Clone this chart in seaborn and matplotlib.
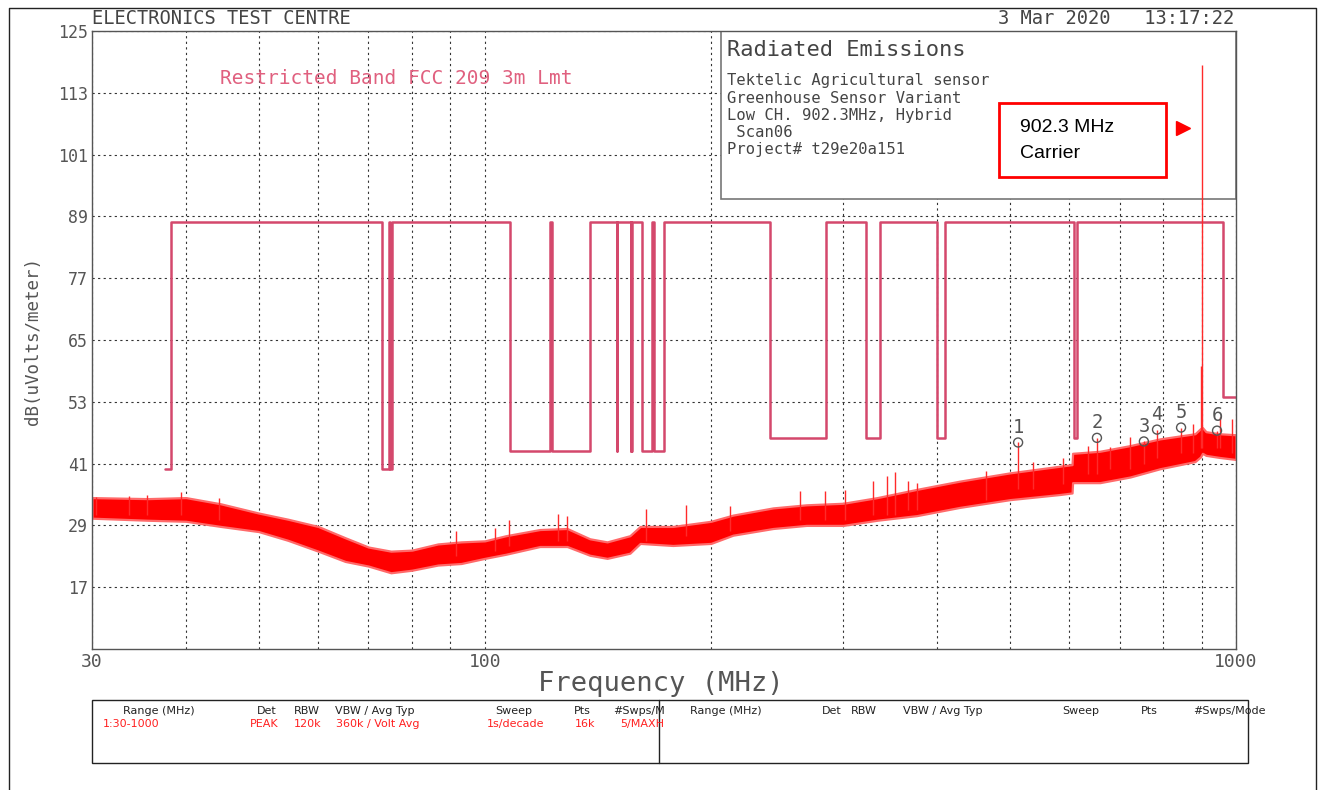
import numpy as np
import pandas as pd
import matplotlib.pyplot as plt
import matplotlib.patches as patches
from matplotlib.ticker import NullLocator
import seaborn as sns

sns.set_theme(style='white')
plt.rcParams['font.family'] = ['DejaVu Sans Mono', 'DejaVu Sans']

W, H = 1318, 790

# noise band of the max-hold trace, read as lower / upper edge of the solid part
freq_mhz = [30, 35.6, 40, 44.5, 50, 54.7, 60, 65.2, 70, 75, 80, 86.6, 93, 100,
            106.7, 118.4, 128.7, 138, 145.5, 156, 161, 178, 200, 214, 242, 268,
            300, 333, 376, 429, 500, 583, 605, 606, 659, 723, 792, 882, 897,
            902.3, 912, 950, 1000]
trace_low = [30.4, 30.0, 29.8, 28.8, 27.8, 26.1, 24.0, 22.0, 21.1, 19.8, 20.3,
             21.3, 21.6, 22.6, 23.4, 24.9, 24.9, 23.2, 22.6, 23.6, 25.5, 25.1,
             25.5, 27.1, 28.4, 29.0, 29.0, 30.0, 30.9, 32.5, 34.0, 35.0, 35.3,
             37.3, 37.3, 38.4, 40.0, 41.4, 42.3, 43.0, 42.6, 42.2, 41.8]
trace_high = [34.4, 34.2, 34.4, 33.2, 31.4, 30.2, 28.8, 26.6, 24.8, 24.0, 24.2,
              25.4, 25.8, 26.0, 27.0, 28.2, 28.4, 26.4, 25.8, 27.0, 28.8, 28.8,
              29.8, 31.0, 32.4, 33.0, 33.3, 34.4, 36.0, 37.6, 39.2, 40.5, 40.8,
              43.0, 43.4, 44.5, 45.8, 46.8, 47.8, 48.0, 47.2, 46.8, 46.6]

# single spikes standing out of the band (carrier incl.)
spike_freq = [30.4, 33.6, 35.5, 39.4, 44.3, 91.5, 103.3, 107.7, 125.2, 128.7,
              163.9, 185.3, 212, 262.7, 283.7, 301.7, 328.8, 343, 351.6, 366,
              376, 464.8, 512.8, 536.7, 588, 635, 653, 680, 723, 754, 785, 845,
              876.6, 899, 902.3, 943.5, 952, 988]
spike_base = [31, 31, 31, 31, 30, 23, 24, 25, 26, 26, 26, 27, 28, 30, 30, 30,
              31, 31, 31, 32, 32, 34, 36, 36, 37, 39, 39, 40, 40, 41, 42, 43,
              43, 44, 44, 44, 44, 43]
spike_peak = [34.6, 34.8, 35.0, 35.4, 34.4, 28.0, 28.4, 30.0, 31.3, 30.8, 32.1,
              32.9, 32.7, 35.6, 35.6, 35.8, 37.7, 38.5, 39.4, 37.6, 37.3, 39.6,
              45.1, 41.4, 42.0, 44.5, 46.0, 44.3, 46.2, 45.3, 47.6, 48.0, 48.7,
              60.0, 118.4, 47.4, 50.1, 49.6]

# FCC 15.205 restricted bands with the 15.209 3 m limit inside them
band_start = [37.5, 73, 74.8, 108, 123, 149.9, 156.52475, 156.7, 162.0125,
              167.72, 240, 322, 399.9, 608, 960]
band_stop = [38.25, 74.6, 75.2, 121.94, 138, 150.05, 156.52525, 156.9, 167.17,
             173.2, 285, 335.4, 410, 614, 1000]
band_limit = [40, 40, 40, 43.5, 43.5, 43.5, 43.5, 43.5, 43.5, 43.5, 46, 46, 46, 46, 54]
open_level = 88

marker_id = ['1', '2', '3', '4', '5', '6']
marker_freq = [512.8, 653, 754, 785, 845, 943.5]
marker_level = [45.1, 46.0, 45.3, 47.6, 48.0, 47.4]

y_ticks = [17, 29, 41, 53, 65, 77, 89, 101, 113, 125]
x_grid = [30, 40, 50, 60, 70, 80, 90, 100, 200, 300, 400, 500, 600, 700, 800, 900, 1000]
x_labels = {30: '30', 100: '100', 1000: '1000'}

# limit line as a step trace
lim_f, lim_v = [], []
for i, (a, b, lv) in enumerate(zip(band_start, band_stop, band_limit)):
    if i > 0:
        lim_f.append(a)
        lim_v.append(open_level)
    lim_f += [a, b]
    lim_v += [lv, lv]
    if b < 1000:
        lim_f.append(b)
        lim_v.append(open_level)
limit = pd.DataFrame({'freq': lim_f, 'level': lim_v})

fig = plt.figure(figsize=(W / 100, H / 100), dpi=100)
ax = fig.add_axes([92 / W, 1 - 649 / H, 1144 / W, 618 / H])
ax.set_xscale('log')
ax.set_xlim(30, 1000)
ax.set_ylim(5, 125)
ax.set_axisbelow(True)

ax.fill_between(freq_mhz, trace_low, trace_high, facecolor='#ff0000',
                edgecolor='#ff6a6a', lw=1.6, zorder=2)
ax.vlines(spike_freq, spike_base, spike_peak, color='#ff2a2a', lw=1.0, zorder=3)

sns.lineplot(data=limit, x='freq', y='level', sort=False, estimator=None,
             color='#d4486c', lw=1.8, ax=ax, zorder=2.5)

# title block inside the plot
ax.add_patch(patches.Rectangle((0.5498, 0.7281), 0.4502, 0.2719, transform=ax.transAxes,
                               facecolor='white', edgecolor='#777777', lw=1.2, zorder=1.5))

sns.scatterplot(x=marker_freq, y=marker_level, marker='o', s=42, facecolor='none',
                edgecolor='#555555', linewidth=1.0, ax=ax, zorder=4)
for m, f, v in zip(marker_id, marker_freq, marker_level):
    ax.text(f, v + 3.0, m, ha='center', va='center', fontsize=13.5, color='#555555', zorder=4)

ax.set_yticks(y_ticks)
ax.set_yticklabels([str(t) for t in y_ticks])
ax.set_xticks(x_grid)
ax.set_xticklabels([x_labels.get(t, '') for t in x_grid])
ax.xaxis.set_minor_locator(NullLocator())
ax.tick_params(axis='both', length=0, labelcolor='#555555')
ax.tick_params(axis='y', pad=3, labelsize=12)
ax.tick_params(axis='x', pad=3, labelsize=13)
ax.grid(True, color='#333333', linestyle=(0, (2, 3)), linewidth=0.8)
ax.set_xlabel('')
ax.set_ylabel('')
for s in ax.spines.values():
    s.set_color('#555555')
    s.set_linewidth(1.0)

# overlay in pixel coordinates for the page furniture
ov = fig.add_axes([0, 0, 1, 1])
ov.set_xlim(0, W)
ov.set_ylim(H, 0)
ov.axis('off')

ov.plot([9, 9, 1316, 1316], [790, 8, 8, 790], color='#222222', lw=1.0, clip_on=False)

grey = '#444444'
ov.text(92, 18, 'ELECTRONICS TEST CENTRE', fontsize=13.5, color=grey, va='center')
ov.text(1234, 18, '3 Mar 2020   13:17:22', fontsize=13.5, color=grey, va='center', ha='right')
ov.text(220, 79, 'Restricted Band FCC 209 3m Lmt', fontsize=14, color='#e0607f', va='center')

ov.text(727, 50, 'Radiated Emissions', fontsize=15.8, color=grey, va='center')
info_lines = ['Tektelic Agricultural sensor', 'Greenhouse Sensor Variant',
              'Low CH. 902.3MHz, Hybrid', ' Scan06', 'Project# t29e20a151']
for i, line in enumerate(info_lines):
    ov.text(727, 81 + i * 17.2, line, fontsize=11.2, color=grey, va='center')

ov.add_patch(patches.Rectangle((999, 103), 167, 74, fill=False, edgecolor='#ff0000', lw=2))
ov.text(1020, 128, '902.3 MHz', fontsize=14, family='Liberation Sans', color='black', va='center')
ov.text(1020, 153, 'Carrier', fontsize=14, family='Liberation Sans', color='black', va='center')
ov.plot([1183], [128], marker='>', color='#ff0000', ms=10, lw=0)

ov.text(33, 341, 'dB(uVolts/meter)', fontsize=12.6, color='#555555', rotation=90,
        ha='center', va='center')
ov.text(661, 684, 'Frequency (MHz)', fontsize=19.5, color='#555555', ha='center', va='center')

# settings table
ov.add_patch(patches.Rectangle((92, 700), 1156, 63, fill=False, edgecolor='#222222', lw=1))
ov.plot([659, 659], [700, 763], color='#222222', lw=1)
tf = dict(fontsize=8, family='DejaVu Sans', va='center')
head_l = [(123, 'Range (MHz)'), (257, 'Det'), (294, 'RBW'), (335, 'VBW / Avg Typ'),
          (495, 'Sweep'), (574, 'Pts'), (613, '#Swps/M')]
row_l = [(103, '1:30-1000'), (250, 'PEAK'), (294, '120k'), (336, '360k / Volt Avg'),
         (487, '1s/decade'), (575, '16k'), (620, '5/MAXH')]
head_r = [(690, 'Range (MHz)'), (822, 'Det'), (851, 'RBW'), (903, 'VBW / Avg Typ'),
          (1062, 'Sweep'), (1141, 'Pts'), (1193, '#Swps/Mode')]
for x, t in head_l + head_r:
    ov.text(x, 711, t, color='#222222', **tf)
for x, t in row_l:
    ov.text(x, 724, t, color='#ff2020', **tf)

fig.savefig('out.png', dpi=100)
